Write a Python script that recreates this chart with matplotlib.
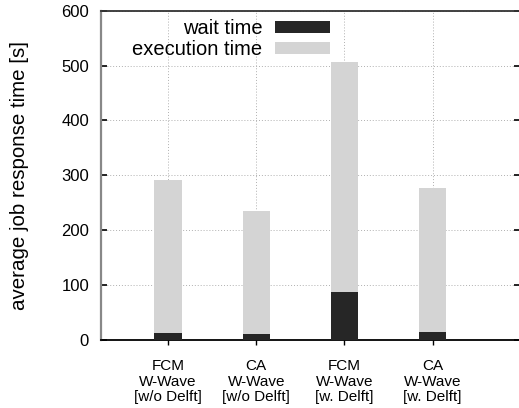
import matplotlib
matplotlib.use("Agg")
import matplotlib.pyplot as plt

plt.rcParams['font.family'] = ['Liberation Sans', 'DejaVu Sans']

#bar categories and the two stacked parts (seconds)
labels = ['FCM\nW-Wave\n[w/o Delft]', 'CA\nW-Wave\n[w/o Delft]',
          'FCM\nW-Wave\n[w. Delft]', 'CA\nW-Wave\n[w. Delft]']
wait_time = [13, 11, 87, 15]
total_time = [291, 235, 506, 277]
exec_time = [t - w for t, w in zip(total_time, wait_time)]

yticks = [0, 100, 200, 300, 400, 500, 600]

fig = plt.figure(figsize=(5.19, 4.08), dpi=100)
ax = fig.add_axes([0.1946, 0.1667, 0.8073, 0.8071])

x = list(range(len(labels)))
b1 = ax.bar(x, wait_time, width=0.31, color='#262626', label='wait time', zorder=3)
b2 = ax.bar(x, exec_time, width=0.31, bottom=wait_time, color='#d4d4d4',
            label='execution time', zorder=3)

ax.set_xlim(-0.76, 3.99)
ax.set_ylim(0, 600)
ax.set_yticks(yticks)
ax.set_xticks(x)
ax.set_xticklabels(labels, fontsize=11, linespacing=1.15)

#dotted grid behind the bars
ax.grid(True, linestyle=(0, (1, 2)), color='#b0b0b0', linewidth=0.7, zorder=0)
ax.set_axisbelow(True)

ax.tick_params(axis='y', direction='in', length=4.5, width=1.2, right=True,
               labelsize=12, pad=8.6)
ax.tick_params(axis='x', direction='out', length=3.6, width=1.0,
               labelsize=11, pad=10)

ax.spines['left'].set_color('#888888')
ax.spines['left'].set_linewidth(1.6)
ax.spines['top'].set_color('#333333')
ax.spines['top'].set_linewidth(1.3)
ax.spines['bottom'].set_color('black')
ax.spines['bottom'].set_linewidth(1.3)

ax.set_ylabel('average job response time [s]', fontsize=14.8)
ax.yaxis.set_label_coords(-0.172, 0.5)

ax.legend(handles=[b1, b2], loc='upper right', bbox_to_anchor=(0.5465, 0.974),
          frameon=False, markerfirst=False, fontsize=14.5, handlelength=2.75,
          handleheight=0.55, handletextpad=0.6, labelspacing=0.08,
          borderpad=0, borderaxespad=0)

fig.savefig('out.png', dpi=100)
